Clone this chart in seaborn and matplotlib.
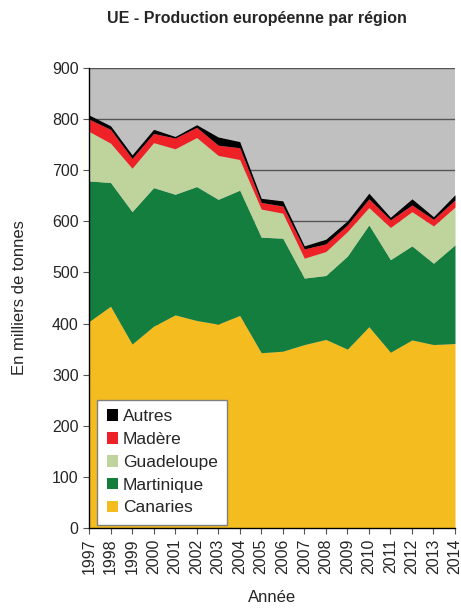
import matplotlib
matplotlib.use("Agg")
import matplotlib.pyplot as plt
import seaborn as sns
from matplotlib.patches import Patch

years = list(range(1997, 2015))
canaries = [404, 434, 360, 395, 417, 406, 399, 416, 343, 346, 359, 369, 350, 394, 344, 368, 359, 361]
martinique = [275, 242, 259, 271, 236, 262, 244, 245, 226, 221, 130, 125, 182, 199, 181, 184, 159, 193]
guadeloupe = [97, 77, 85, 88, 89, 96, 86, 60, 55, 49, 39, 47, 48, 34, 63, 67, 73, 74]
madere = [24, 27, 19, 18, 21, 20, 20, 23, 13, 14, 18, 15, 13, 17, 15, 13, 13, 14]
autres = [8, 7, 7, 8, 3, 5, 16, 12, 8, 10, 6, 9, 8, 11, 5, 12, 5, 10]

labels = ["Canaries", "Martinique", "Guadeloupe", "Madère", "Autres"]
colors = ["#F4BC1F", "#137E3E", "#BFD39C", "#EE2127", "#000000"]

sns.set_style("ticks")
plt.rcParams["font.family"] = ["Liberation Sans", "DejaVu Sans"]

fig = plt.figure(figsize=(4.61, 6.09), dpi=100)
ax = fig.add_axes([89 / 461, 1 - 528 / 609, 366 / 461, 460 / 609])
ax.set_facecolor("#C0C0C0")

ax.stackplot(years, canaries, martinique, guadeloupe, madere, autres,
             colors=colors, linewidth=0, zorder=2)

ax.set_xlim(1997, 2014)
ax.set_ylim(0, 900)
ax.set_yticks(range(0, 901, 100))
ax.set_xticks(years)
ax.set_xticklabels([str(y) for y in years], rotation=90)
ax.tick_params(axis="both", labelsize=11.5, direction="out", length=4, color="#555555")
ax.yaxis.grid(True, color="#555555", linewidth=1, zorder=1)
ax.set_axisbelow(True)

for s in ["top", "right"]:
    ax.spines[s].set_visible(False)
for s in ["left", "bottom"]:
    ax.spines[s].set_color("black")
    ax.spines[s].set_linewidth(1)
    ax.spines[s].set_zorder(5)

ax.set_ylabel("En milliers de tonnes", fontsize=12)
ax.yaxis.set_label_coords(-62 / 366, 0.5)
ax.set_xlabel("Année", fontsize=12)
ax.xaxis.set_label_coords(0.5, -62 / 460)
fig.text(257 / 461, 1 - 18 / 609, "UE - Production européenne par région",
         ha="center", va="center", fontsize=11.5, fontweight="bold")

handles = [Patch(facecolor=c, edgecolor="none", label=l) for c, l in zip(colors, labels)][::-1]
leg = ax.legend(handles=handles, loc="lower left", bbox_to_anchor=(8 / 366, 3 / 460),
                borderaxespad=0, fontsize=12.5, frameon=True, fancybox=False,
                handlelength=0.65, handleheight=0.65, handletextpad=0.3,
                labelspacing=0.45, borderpad=0.55)
leg.get_frame().set_edgecolor("#808080")
leg.get_frame().set_facecolor("white")
leg.get_frame().set_alpha(1)
leg.get_frame().set_linewidth(1)

fig.savefig("out.png", dpi=100)
